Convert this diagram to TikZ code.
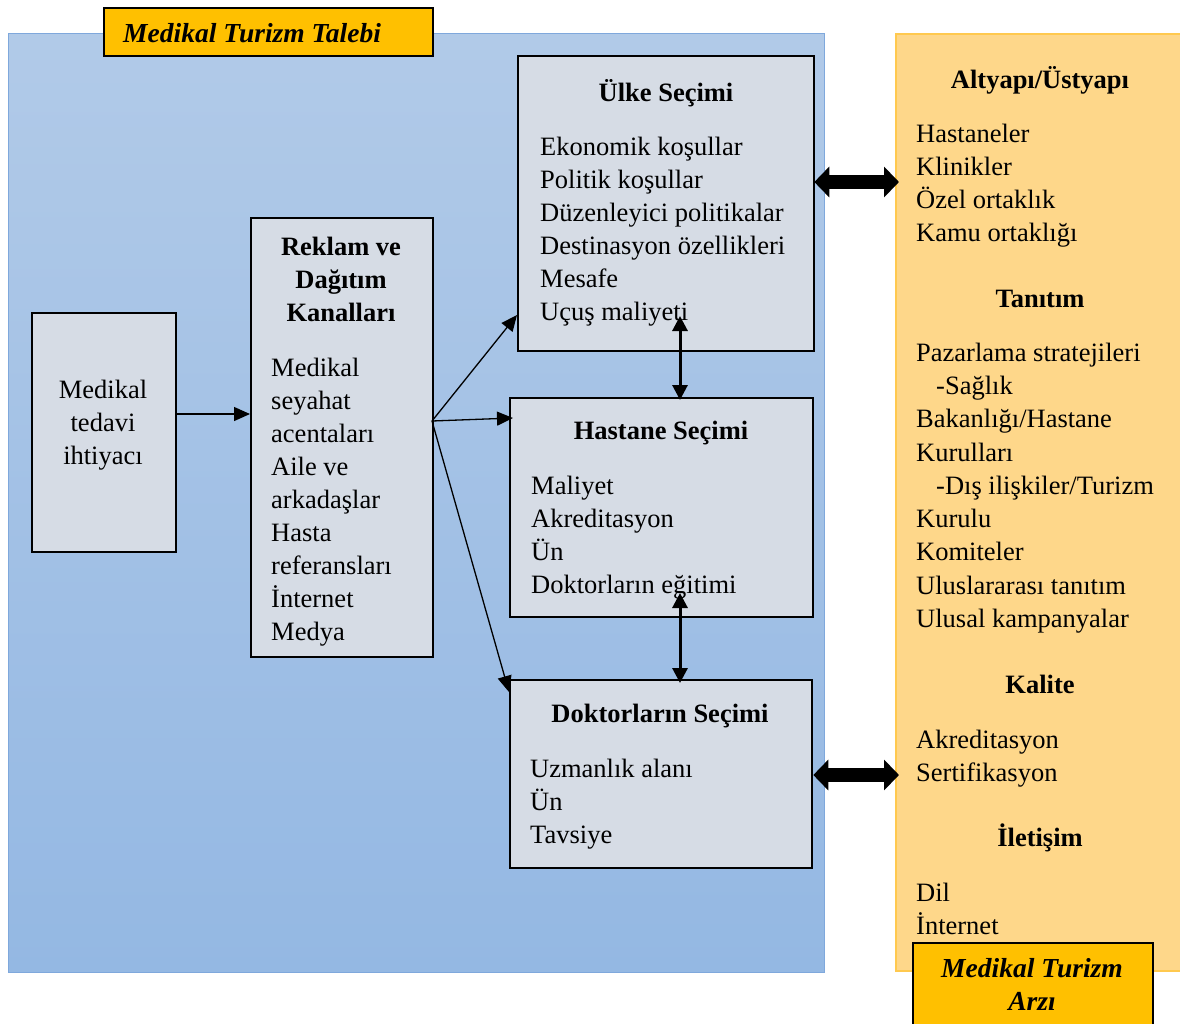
\documentclass[tikz,border=0pt]{standalone}
\usepackage{fontspec}
\setmainfont{Liberation Serif}
\usetikzlibrary{arrows.meta}
\definecolor{boxfill}{HTML}{D6DCE5}
\definecolor{bluetop}{HTML}{B1CAE8}
\definecolor{bluebot}{HTML}{94B8E3}
\definecolor{blueline}{HTML}{7FA8DC}
\definecolor{orangefill}{HTML}{FED78A}
\definecolor{orangeline}{HTML}{FFC94F}
\definecolor{gold}{HTML}{FFC000}
\begin{document}
\begin{tikzpicture}[x=1pt,y=-1pt,
  box/.style={draw=black, line width=2.3pt, fill=boxfill, inner sep=0pt, anchor=north west},
  titlebox/.style={draw=black, line width=1.5pt, fill=gold, inner sep=0pt, anchor=north west},
  txt/.style={inner sep=0pt, anchor=base west, font=\fontsize{26.5}{33}\selectfont},
  ctxt/.style={inner sep=0pt, anchor=base, font=\fontsize{26.5}{33}\selectfont},
  hd/.style={inner sep=0pt, anchor=base, font=\fontsize{26.5}{33}\selectfont\bfseries},
  ttl/.style={inner sep=0pt, font=\fontsize{27.5}{33}\selectfont\bfseries\itshape},
  thinarrow/.style={line width=1.3pt, -{Triangle[length=16pt,width=14pt]}},
  dblarrow/.style={line width=3pt, {Triangle[length=15pt,width=15pt]}-{Triangle[length=15pt,width=15pt]}},
  fatarrow/.style={line width=14pt, {Triangle[length=15pt,width=30pt]}-{Triangle[length=15pt,width=30pt]}}]
\useasboundingbox (0,0) rectangle (1180,1023);

% panels
\node[anchor=north west, inner sep=0pt, minimum width=816pt, minimum height=939pt,
      top color=bluetop, bottom color=bluebot, draw=blueline, line width=1.2pt] (demand) at (8,33) {};
\node[anchor=north west, inner sep=0pt, minimum width=295pt, minimum height=937pt,
      fill=orangefill, draw=orangeline, line width=1.5pt] (supply) at (895,33) {};

% title boxes
\node[titlebox, minimum width=329pt, minimum height=48pt] (tdemand) at (103,7) {};
\node[ttl, anchor=base west] (tdemandtxt) at (123,42) {Medikal Turizm Talebi};
\node[titlebox, minimum width=240pt, minimum height=90pt] (tsupply) at (912,942) {};
\node[ttl, anchor=base] (tsupply1) at (1032,977) {Medikal Turizm};
\node[ttl, anchor=base] (tsupply2) at (1032,1010) {Arzı};

% boxes
\node[box, minimum width=144pt, minimum height=239pt] (need) at (31,312) {};
\node[box, minimum width=182pt, minimum height=439pt] (reklam) at (250,217) {};
\node[box, minimum width=296pt, minimum height=295pt] (ulke) at (517,55) {};
\node[box, minimum width=303pt, minimum height=219pt] (hastane) at (509,397) {};
\node[box, minimum width=302pt, minimum height=188pt] (doktor) at (509,679) {};

% need text
\foreach \t [count=\i] in {Medikal, tedavi, ihtiyacı}
  \node[ctxt] (need\i) at (103,{398+33*(\i-1)}) {\t};

% reklam text
\foreach \t [count=\i] in {Reklam ve, Dağıtım, Kanalları}
  \node[hd] (rh\i) at (341,{255+33*(\i-1)}) {\t};
\foreach \t [count=\i] in {Medikal, seyahat, acentaları, Aile ve, arkadaşlar, Hasta, referansları, İnternet, Medya}
  \node[txt] (r\i) at (271,{376+33*(\i-1)}) {\t};

% ulke text
\node[hd] (uh) at (666,101) {Ülke Seçimi};
\foreach \t [count=\i] in {Ekonomik koşullar, Politik koşullar, Düzenleyici politikalar, Destinasyon özellikleri, Mesafe, Uçuş maliyeti}
  \node[txt] (u\i) at (540,{155+33*(\i-1)}) {\t};

% hastane text
\node[hd] (hh) at (661,439) {Hastane Seçimi};
\foreach \t [count=\i] in {Maliyet, Akreditasyon, Ün, Doktorların eğitimi}
  \node[txt] (h\i) at (531,{494+33*(\i-1)}) {\t};

% doktor text
\node[hd] (dh) at (660,722) {Doktorların Seçimi};
\foreach \t [count=\i] in {Uzmanlık alanı, Ün, Tavsiye}
  \node[txt] (d\i) at (530,{777+33*(\i-1)}) {\t};

% supply text
\node[hd] (sh1) at (1040,88) {Altyapı/Üstyapı};
\foreach \t [count=\i] in {Hastaneler, Klinikler, Özel ortaklık, Kamu ortaklığı}
  \node[txt] (s\i) at (916,{142+33*(\i-1)}) {\t};
\node[hd] (sh2) at (1040,307) {Tanıtım};
\node[txt] (t1) at (916,361) {Pazarlama stratejileri};
\node[txt] (t2) at (936,394) {-Sağlık};
\node[txt] (t3) at (916,427) {Bakanlığı/Hastane};
\node[txt] (t4) at (916,461) {Kurulları};
\node[txt] (t5) at (936,494) {-Dış ilişkiler/Turizm};
\node[txt] (t6) at (916,527) {Kurulu};
\node[txt] (t7) at (916,560) {Komiteler};
\node[txt] (t8) at (916,594) {Uluslararası tanıtım};
\node[txt] (t9) at (916,627) {Ulusal kampanyalar};
\node[hd] (sh3) at (1040,693) {Kalite};
\node[txt] (k1) at (916,748) {Akreditasyon};
\node[txt] (k2) at (916,781) {Sertifikasyon};
\node[hd] (sh4) at (1040,846) {İletişim};
\node[txt] (i1) at (916,901) {Dil};
\node[txt] (i2) at (916,934) {İnternet};

% connectors
\coordinate (y1) at (0,414);
\draw[thinarrow] (need.east |- y1) -- (reklam.west |- y1);
\coordinate (src) at (432,421);
\coordinate (yu) at (0,315);
\coordinate (yh) at (0,418);
\coordinate (yd) at (0,692);
\draw[thinarrow] (src) -- (ulke.west |- yu);
\draw[thinarrow] (src) -- ([xshift=4pt]hastane.west |- yh);
\draw[thinarrow] (src) -- (doktor.west |- yd);

\coordinate (a1) at (680,316);
\coordinate (a2) at (680,593);
\draw[dblarrow] (a1) -- ([yshift=-3pt]hastane.north -| a1);
\draw[dblarrow] (a2) -- ([yshift=-4pt]doktor.north -| a2);

\coordinate (f1) at (0,182);
\coordinate (f2) at (0,775);
\draw[fatarrow] ([xshift=-1pt]ulke.east |- f1) -- ([xshift=4pt]supply.west |- f1);
\draw[fatarrow] ([xshift=0pt]doktor.east |- f2) -- ([xshift=4pt]supply.west |- f2);
\end{tikzpicture}
\end{document}
